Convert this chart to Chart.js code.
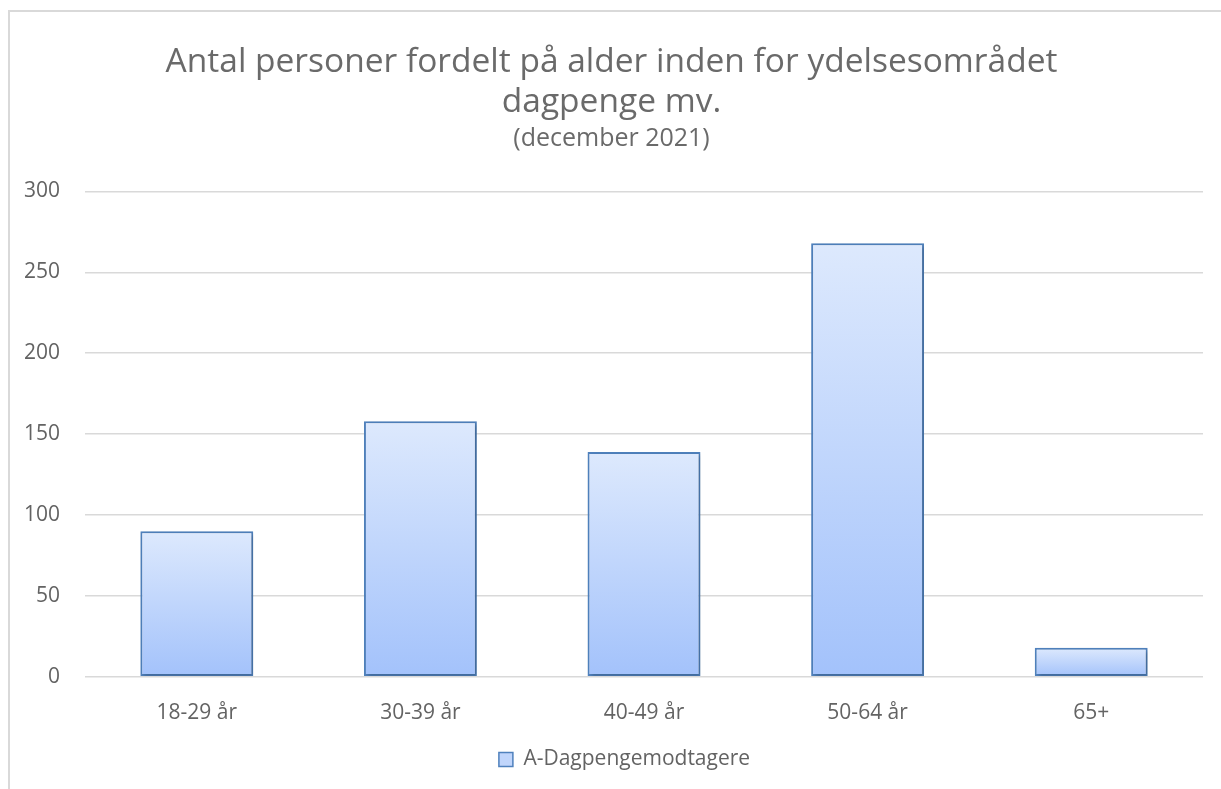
<!DOCTYPE html>
<html>
<head>
<meta charset="utf-8">
<script src="https://cdn.jsdelivr.net/npm/chart.js@4"></script>
<style>
  html, body { margin: 0; padding: 0; background: #fff; overflow: hidden; }
  #frame { position: absolute; left: 8px; top: 10px; width: 1240px; height: 800px;
           border-left: 2px solid #d9d9d9; border-top: 2px solid #d9d9d9; }
  #wrap { position: absolute; left: 0; top: 0; width: 1221px; height: 789px; }
</style>
</head>
<body>
<div id="frame"></div>
<div id="wrap"><canvas id="chart"></canvas></div>
<script>
// data
var categories = ['18-29 år', '30-39 år', '40-49 år', '50-64 år', '65+'];
var persons = [90, 158, 139, 268, 18];
var seriesName = 'A-Dagpengemodtagere';
var titleLines = ['Antal personer fordelt på alder inden for ydelsesområdet', 'dagpenge mv.'];
var subTitle = '(december 2021)';

var fontName = '"Open Sans", sans-serif';
var grey = '#636363';

//each bar gets its own top-to-bottom gradient like the excel fill
function barFill(ctx) {
	var chart = ctx.chart;
	var ys = chart.scales.y;
	if (!ys || ctx.type !== 'data') return '#c0d5fb';
	var top = ys.getPixelForValue(ctx.raw);
	var bottom = ys.getPixelForValue(0);
	if (!isFinite(top) || !isFinite(bottom) || top === bottom) return '#c0d5fb';
	var g = chart.ctx.createLinearGradient(0, top, 0, bottom);
	g.addColorStop(0, '#dde9fd');
	g.addColorStop(1, '#a3c2fb');
	return g;
}

//soft shadow under the bars
var barShadow = {
	id: 'barShadow',
	beforeDatasetsDraw(chart) {
		var c = chart.ctx;
		c.save();
		c.shadowColor = 'rgba(0,0,0,0.22)';
		c.shadowBlur = 4;
		c.shadowOffsetX = 2;
		c.shadowOffsetY = 2;
	},
	afterDatasetsDraw(chart) {
		chart.ctx.restore();
	}
};

//legend in the original sits a bit right of the canvas centre
var legendShift = {
	id: 'legendShift',
	afterLayout(chart) {
		if (chart.legend) {
			chart.legend.left += 13;
			chart.legend.right += 13;
		}
	}
};

var myChart = new Chart(document.getElementById('chart').getContext('2d'), {
	type: 'bar',
	data: {
		labels: categories,
		datasets: [{
			label: seriesName,
			data: persons,
			backgroundColor: barFill,
			borderColor: '#4f81bd',
			borderWidth: 2,
			borderSkipped: false,
			categoryPercentage: 1,
			barPercentage: 0.505
		}]
	},
	plugins: [barShadow, legendShift],
	options: {
		responsive: true,
		maintainAspectRatio: false,
		animation: false,
		layout: { padding: { left: 20, right: 18, top: 42, bottom: 9 } },
		plugins: {
			title: {
				display: true,
				text: titleLines,
				color: '#6a6a6a',
				font: { family: fontName, size: 33.5, weight: 'normal', lineHeight: 1.2 },
				padding: { top: 0, bottom: 0 }
			},
			subtitle: {
				display: true,
				text: subTitle,
				color: '#6a6a6a',
				font: { family: fontName, size: 25, weight: 'normal', lineHeight: 1.2 },
				padding: { top: 1, bottom: 38 }
			},
			legend: {
				position: 'bottom',
				labels: {
					color: grey,
					font: { family: fontName, size: 21 },
					boxWidth: 14,
					boxHeight: 14,
					padding: 7,
					generateLabels(chart) {
						return [{
							text: seriesName,
							fillStyle: '#c0d5fb',
							strokeStyle: '#4f81bd',
							lineWidth: 1.5,
							fontColor: grey,
							datasetIndex: 0
						}];
					}
				}
			},
			tooltip: { enabled: false }
		},
		scales: {
			x: {
				grid: { display: false },
				border: { display: false },
				ticks: { color: grey, font: { family: fontName, size: 21 }, padding: 16 }
			},
			y: {
				min: 0,
				max: 300,
				ticks: { stepSize: 50, color: grey, font: { family: fontName, size: 21 }, padding: 25 },
				grid: { color: '#d9d9d9', lineWidth: 1.5, drawTicks: false },
				border: { display: false },
				afterFit(scale) { scale.width = 65; }
			}
		}
	}
});
</script>
</body>
</html>
